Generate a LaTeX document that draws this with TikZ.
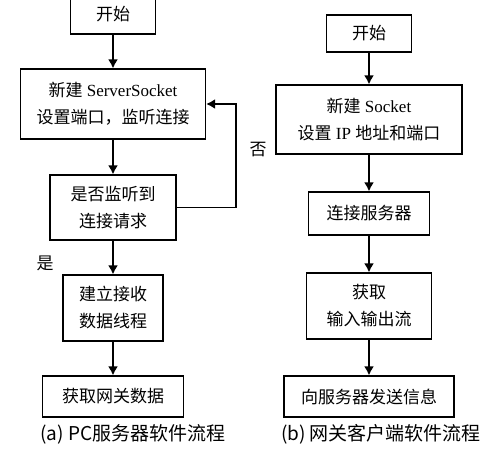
\documentclass[tikz,border=0pt]{standalone}
\usepackage{fontspec}
\usetikzlibrary{arrows.meta}
\setmainfont{Liberation Serif}
\newfontfamily\cjk{Noto Sans CJK SC}
\begin{document}
\begin{tikzpicture}[x=1pt,y=-1pt,
		flowbox/.style={draw,line width=1.2pt,inner sep=0pt,align=center,font=\fontsize{17}{27}\selectfont},
		flowline/.style={line width=1.7pt,-{Latex[length=9pt,width=10pt]}},
		caption/.style={font=\cjk\fontsize{19}{22}\selectfont}]
	\useasboundingbox (0,0) rectangle (500,453);
	% PC server
	\node[flowbox,minimum width=85,minimum height=39] (start) at (113,14.5) {\cjk 开始};
	\node[flowbox,minimum width=185,minimum height=70] (server) at (113,104) {{\cjk 新建} ServerSocket\\{\cjk 设置端口，监听连接}};
	\node[flowbox,minimum width=126,minimum height=65] (listen) at (113,207.5) {\cjk 是否监听到\\\cjk 连接请求};
	\node[flowbox,minimum width=100,minimum height=66] (thread) at (113,308) {\cjk 建立接收\\\cjk 数据线程};
	\node[flowbox,minimum width=141,minimum height=41] (getdata) at (113,396.5) {\cjk 获取网关数据};
	\node[caption] (capa) at (133,434) {(a) PC服务器软件流程};
	\node[font=\cjk\fontsize{17}{20}\selectfont] (yes) at (45,263) {是};
	\node[font=\cjk\fontsize{17}{20}\selectfont] (no) at (258,150) {否};
	\coordinate (loop) at (236,207.5);
	\draw[flowline] (start) -- (server);
	\draw[flowline] (server) -- (listen);
	\draw[flowline] (listen) -- (thread);
	\draw[flowline] (thread) -- (getdata);
	\draw[flowline] (listen.east) -- (loop) |- (server.east);
	% gateway client
	\node[flowbox,minimum width=85,minimum height=37] (cstart) at (369,33.5) {\cjk 开始};
	\node[flowbox,minimum width=186,minimum height=69] (socket) at (369,119.5) {{\cjk 新建} Socket\\{\cjk 设置} IP {\cjk 地址和端口}};
	\node[flowbox,minimum width=121,minimum height=43] (connect) at (369,213.5) {\cjk 连接服务器};
	\node[flowbox,minimum width=125,minimum height=66] (stream) at (369,306) {\cjk 获取\\\cjk 输入输出流};
	\node[flowbox,minimum width=170,minimum height=41] (send) at (369,396.5) {\cjk 向服务器发送信息};
	\node[caption] (capb) at (381,434) {(b) 网关客户端软件流程};
	\draw[flowline] (cstart) -- (socket);
	\draw[flowline] (socket) -- (connect);
	\draw[flowline] (connect) -- (stream);
	\draw[flowline] (stream) -- (send);
\end{tikzpicture}
\end{document}
